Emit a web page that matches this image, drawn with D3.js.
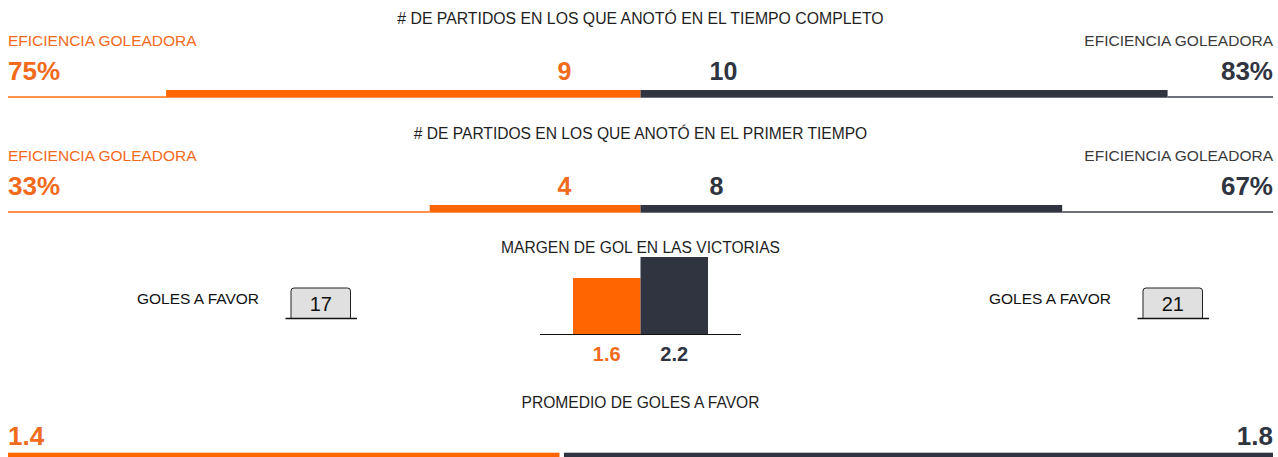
<!DOCTYPE html>
<html>
<head>
<meta charset="utf-8">
<script src="https://cdn.jsdelivr.net/npm/d3@7"></script>
<style>
    body { margin:0; background:#fff; }
    svg text { font-family: "Liberation Sans", Arial, sans-serif; }
</style>
</head>
<body>
<div id="chart"></div>
<script>

// Data (local = orange, visitante = dark)
var rowTitles = ["# DE PARTIDOS EN LOS QUE ANOTÓ EN EL TIEMPO COMPLETO", "# DE PARTIDOS EN LOS QUE ANOTÓ EN EL PRIMER TIEMPO"];
var partidosLocal = [9, 4];
var partidosVisita = [10, 8];
var totalPartidos = 12;
var eficienciaLocal = [75, 33];
var eficienciaVisita = [83, 67];
var eficienciaLabel = "EFICIENCIA GOLEADORA";

var margenTitle = "MARGEN DE GOL EN LAS VICTORIAS";
var margenEquipos = ["local", "visita"];
var margenValues = [1.6, 2.2];

var golesLabel = "GOLES A FAVOR";
var golesAFavor = [17, 21];

var promedioTitle = "PROMEDIO DE GOLES A FAVOR";
var promedioValues = [1.4, 1.8];


var layout = {

    width : 1278,
    height : 457,

    left : 8,
    right : 1273,
    center : 640.5,

    orange : "#ff6600",
    orangeText : "#f26a1b",
    dark : "#2f3440",
    darkText : "#3a3a3a",
    textColor : "#1e1e1e",

    titleSize : 15.6,//px

    rowStep : 115,//px between the two "partidos" rows
    barTop : 90,
    barHeight : 7.7,

    colors : function(i){ return i == 0 ? layout.orange : layout.dark; },
    textColors : function(i){ return i == 0 ? layout.orangeText : layout.dark; }
};

var svg = d3.select("#chart").append("svg")
    .attr("width", layout.width)
    .attr("height", layout.height);


function addText(g, x, y, txt, size, color, anchor, weight){
    return g.append("text")
        .attr("x", x)
        .attr("y", y)
        .attr("text-anchor", anchor || "start")
        .attr("font-size", size + "px")
        .attr("font-weight", weight || "normal")
        .attr("fill", color)
        .text(txt);
}


// Rows 1 and 2: mirrored bars around the centre
var half = d3.scaleLinear()
    .domain([0, totalPartidos])
    .range([0, layout.center - layout.left]);

rowTitles.forEach(function(title, i){

    var g = svg.append("g").attr("transform", "translate(0," + (i * layout.rowStep) + ")");
    var y0 = layout.barTop;
    var yBottom = y0 + layout.barHeight;

    addText(g, layout.center, 23.5, title, i == 0 ? 15.8 : layout.titleSize, layout.textColor, "middle");

    addText(g, layout.left, 46, eficienciaLabel, 15.5, layout.orangeText);
    addText(g, layout.right, 46, eficienciaLabel, 15.5, layout.darkText, "end");

    addText(g, layout.left, 80, eficienciaLocal[i] + "%", 26, layout.orangeText, "start", "bold");
    addText(g, layout.right, 80, eficienciaVisita[i] + "%", 26, layout.dark, "end", "bold");

    addText(g, layout.center - 69, 79.5, partidosLocal[i], 25, layout.orangeText, "end", "bold");
    addText(g, layout.center + 69, 79.5, partidosVisita[i], 25, layout.dark, "start", "bold");

    // thin base lines
    g.append("rect")
        .attr("x", layout.left)
        .attr("y", yBottom - 1.4)
        .attr("width", half(totalPartidos) - half(partidosLocal[i]))
        .attr("height", 1.4)
        .attr("fill", layout.orange);
    g.append("rect")
        .attr("x", layout.center + half(partidosVisita[i]))
        .attr("y", yBottom - 1.4)
        .attr("width", half(totalPartidos) - half(partidosVisita[i]))
        .attr("height", 1.4)
        .attr("fill", layout.dark);

    // thick bars
    g.append("rect")
        .attr("x", layout.center - half(partidosLocal[i]))
        .attr("y", y0)
        .attr("width", half(partidosLocal[i]))
        .attr("height", layout.barHeight)
        .attr("fill", layout.orange);
    g.append("rect")
        .attr("x", layout.center)
        .attr("y", y0)
        .attr("width", half(partidosVisita[i]))
        .attr("height", layout.barHeight)
        .attr("fill", layout.dark);
});


// Row 3: margen de gol column chart
var gm = svg.append("g");
addText(gm, layout.center, 253, margenTitle, layout.titleSize, layout.textColor, "middle");

var xm = d3.scaleBand()
    .domain(margenEquipos)
    .range([573, 708])
    .padding(0);

var ym = d3.scaleLinear()
    .domain([0, 2.4])
    .range([334, 250]);

gm.selectAll("rect.margen")
    .data(margenValues)
    .enter().append("rect")
    .attr("class", "margen")
    .attr("x", function(d, i){ return xm(margenEquipos[i]); })
    .attr("y", function(d){ return ym(d); })
    .attr("width", xm.bandwidth())
    .attr("height", function(d){ return ym(0) - ym(d); })
    .attr("fill", function(d, i){ return layout.colors(i); });

gm.append("line")
    .attr("x1", 540).attr("x2", 741)
    .attr("y1", ym(0) + 0.5).attr("y2", ym(0) + 0.5)
    .attr("stroke", "#111")
    .attr("stroke-width", 1.2);

gm.selectAll("text.margenLabel")
    .data(margenValues)
    .enter().append("text")
    .attr("class", "margenLabel")
    .attr("x", function(d, i){ return xm(margenEquipos[i]) + xm.bandwidth() / 2; })
    .attr("y", 361)
    .attr("text-anchor", "middle")
    .attr("font-size", "20px")
    .attr("font-weight", "bold")
    .attr("fill", function(d, i){ return layout.textColors(i); })
    .text(function(d){ return d3.format(".1f")(d); });


// Goles a favor boxes (left and right panels)
var panelOffset = [0, 852];
golesAFavor.forEach(function(v, i){
    var g = svg.append("g").attr("transform", "translate(" + panelOffset[i] + ",0)");
    addText(g, 137, 304, golesLabel, 15.5, "#111");

    var bx = 291, by = 288, bw = 59.5, bh = 30, r = 3;
    g.append("path")
        .attr("d", "M" + bx + "," + (by + bh) +
                   " V" + (by + r) +
                   " Q" + bx + "," + by + " " + (bx + r) + "," + by +
                   " H" + (bx + bw - r) +
                   " Q" + (bx + bw) + "," + by + " " + (bx + bw) + "," + (by + r) +
                   " V" + (by + bh))
        .attr("fill", "#e0e0e0")
        .attr("stroke", "#222")
        .attr("stroke-width", 1);
    g.append("line")
        .attr("x1", 285.5).attr("x2", 357)
        .attr("y1", 318.5).attr("y2", 318.5)
        .attr("stroke", "#111")
        .attr("stroke-width", 1.3);

    addText(g, bx + bw / 2, 310.5, v, 20, "#111", "middle");
});


// Row 4: promedio de goles a favor, split bar
var gp = svg.append("g");
addText(gp, layout.center, 408, promedioTitle, layout.titleSize, layout.textColor, "middle");

var gap = 4.5;
var xp = d3.scaleLinear()
    .domain([0, d3.sum(promedioValues)])
    .range([layout.left, layout.right - gap]);

gp.append("rect")
    .attr("x", xp(0))
    .attr("y", 452.7)
    .attr("width", xp(promedioValues[0]) - xp(0))
    .attr("height", 6)
    .attr("fill", layout.orange);
gp.append("rect")
    .attr("x", xp(promedioValues[0]) + gap)
    .attr("y", 452.7)
    .attr("width", xp(d3.sum(promedioValues)) - xp(promedioValues[0]))
    .attr("height", 6)
    .attr("fill", layout.dark);

addText(gp, layout.left, 445, d3.format(".1f")(promedioValues[0]), 26, layout.orangeText, "start", "bold");
addText(gp, layout.right, 445, d3.format(".1f")(promedioValues[1]), 26, layout.dark, "end", "bold");

</script>
</body>
</html>
